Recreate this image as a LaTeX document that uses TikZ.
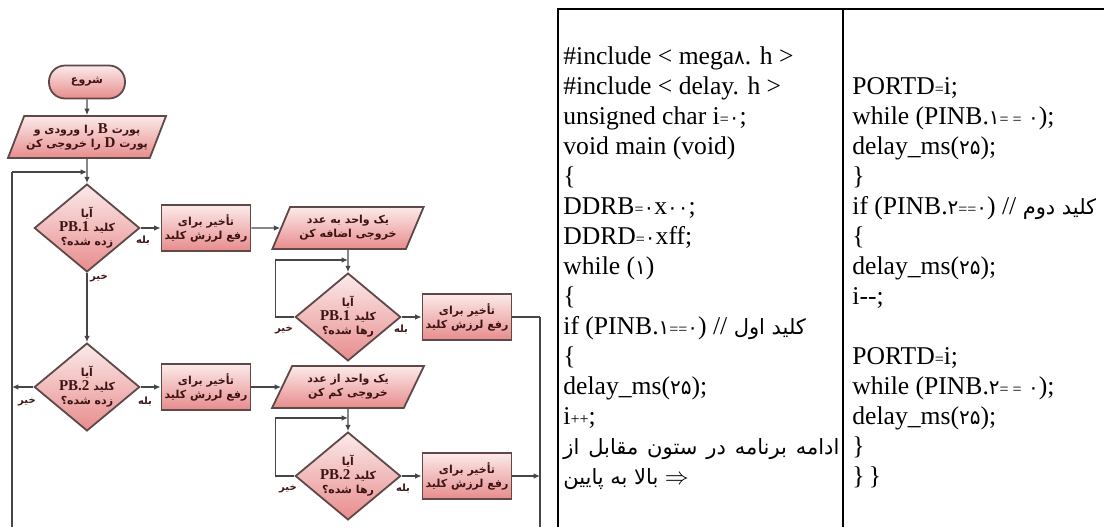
\documentclass[tikz,border=0pt]{standalone}
\usepackage{fontspec}
\setmainfont{Liberation Serif}
\newfontfamily\arabicfont[Script=Arabic]{DejaVu Sans}
\newfontfamily\digitfont{DejaVu Sans}
\TeXXeTstate=1
\usepackage{xcolor}
\usetikzlibrary{arrows.meta,shapes.geometric}

\definecolor{pinktop}{RGB}{252,234,234}
\definecolor{pinkbot}{RGB}{231,140,140}
\definecolor{boxline}{RGB}{95,72,72}
\definecolor{flowtext}{RGB}{60,20,20}
\definecolor{wirecol}{RGB}{70,70,70}

\newcommand{\pers}[1]{{\arabicfont\beginR #1\endR}}
\newcommand{\cfa}[1]{{\fontsize{10.5}{13}\selectfont\pers{#1}}}
\newcommand{\lat}[1]{\beginL{\rmfamily\fontsize{7.5}{8}\selectfont #1}\endL}
\newcommand{\dg}[1]{{\digitfont\fontsize{10}{12}\selectfont #1}}
\newcommand{\sm}[1]{{\fontsize{8}{10}\selectfont #1}}

\begin{document}
\begin{tikzpicture}[
    x=0.5pt, y=-0.5pt,
    shp/.style={draw=boxline, line width=0.9pt, top color=pinktop, bottom color=pinkbot,
      text=flowtext, font=\arabicfont\bfseries\fontsize{5.5}{7}\selectfont, align=center, inner sep=1pt},
    term/.style={shp, rectangle, rounded corners=8pt, minimum width=38pt, minimum height=16.5pt},
    io/.style={shp, trapezium, trapezium left angle=62, trapezium right angle=118,
      trapezium stretches=true, minimum width=76pt, minimum height=21pt},
    proc/.style={shp, rectangle, minimum width=44.5pt, minimum height=23pt},
    dec/.style={shp, diamond, aspect=1.2, inner sep=0pt, minimum width=50pt, minimum height=41pt},
    arr/.style={-{Latex[length=3.2pt,width=2.8pt]}, wirecol, line width=0.7pt},
    link/.style={wirecol, line width=0.7pt},
    rail/.style={wirecol, line width=1.3pt},
    lbl/.style={text=flowtext, font=\arabicfont\bfseries\fontsize{5}{6}\selectfont, inner sep=0pt},
    codeln/.style={anchor=base west, inner sep=0pt, font=\fontsize{12.8}{15}\selectfont},
    tbl/.style={black, line width=1pt}
]
  \useasboundingbox (0,0) rectangle (1104,527);

  % flowchart
  \node[term] (start) at (87,82) {\pers{شروع}};
  \node[io]   (io1)   at (87,137) {\pers{پورت \lat{B} را ورودی و}\\ \pers{پورت \lat{D} را خروجی کن}};

  \node[dec]  (d1)  at (87,228)  {\pers{آیا}\\ \pers{کلید \lat{PB.1}}\\ \pers{زده شده؟}};
  \node[proc] (dl1) at (206,228) {\pers{تأخیر برای}\\ \pers{رفع لرزش کلید}};
  \node[io]   (io2) at (348,228) {\pers{یک واحد به عدد}\\ \pers{خروجی اضافه کن}};
  \node[dec]  (d3)  at (348,317) {\pers{آیا}\\ \pers{کلید \lat{PB.1}}\\ \pers{رها شده؟}};
  \node[proc] (dl2) at (467,317) {\pers{تأخیر برای}\\ \pers{رفع لرزش کلید}};

  \node[dec]  (d2)  at (87,387)  {\pers{آیا}\\ \pers{کلید \lat{PB.2}}\\ \pers{زده شده؟}};
  \node[proc] (dl3) at (206,387) {\pers{تأخیر برای}\\ \pers{رفع لرزش کلید}};
  \node[io]   (io3) at (348,387) {\pers{یک واحد از عدد}\\ \pers{خروجی کم کن}};
  \node[dec]  (d4)  at (348,476) {\pers{آیا}\\ \pers{کلید \lat{PB.2}}\\ \pers{رها شده؟}};
  \node[proc] (dl4) at (467,476) {\pers{تأخیر برای}\\ \pers{رفع لرزش کلید}};

  \coordinate (lb) at (12,527);
  \coordinate (rb) at (540,527);
  \coordinate (j1) at (87,172);
  \coordinate (j3) at (348,260);
  \coordinate (j4) at (348,418);

  \draw[arr] (start) -- (io1);
  \draw[arr] (io1) -- (d1);
  \draw[rail] (lb) -- (lb |- j1);
  \draw[arr] (lb |- j1) -- (j1);
  \draw[arr] (d1) -- (dl1);
  \draw[arr] (dl1) -- (io2);
  \draw[arr] (io2) -- (d3);
  \draw[arr] (d3.west) -- ++(-19,0) |- (j3);
  \draw[arr] (d3) -- (dl2);
  \draw[link] (dl2.east) -- (dl2.east -| rb);
  \draw[rail] (dl2.east -| rb) -- (rb);
  \draw[arr] (d1) -- (d2);
  \draw[arr] (d2.west) -- (d2.west -| lb);
  \draw[arr] (d2) -- (dl3);
  \draw[arr] (dl3) -- (io3);
  \draw[arr] (io3) -- (d4);
  \draw[arr] (d4.west) -- ++(-19,0) |- (j4);
  \draw[arr] (d4) -- (dl4);
  \draw[arr] (dl4.east) -- (dl4.east -| rb);

  \node[lbl] (y1) at (143,241) {\pers{بله}};
  \node[lbl] (n1) at (99,278)  {\pers{خیر}};
  \node[lbl] (y2) at (145,402) {\pers{بله}};
  \node[lbl] (n2) at (27,402)  {\pers{خیر}};
  \node[lbl] (y3) at (401,330) {\pers{بله}};
  \node[lbl] (n3) at (284,330) {\pers{خیر}};
  \node[lbl] (y4) at (403,489) {\pers{بله}};
  \node[lbl] (n4) at (288,489) {\pers{خیر}};

  % code table
  \draw[tbl] (558,527) -- (558,9) -- (1104,9);
  \draw[tbl] (843,9) -- (843,527);

  \foreach \ln [count=\k from 0] in {
      {\#include < mega\dg{۸}. h >},
      {\#include < delay. h >},
      {unsigned char i\sm{=}\dg{۰};},
      {void main (void)},
      {\{},
      {DDRB\sm{=}\dg{۰}x\dg{۰۰};},
      {DDRD\sm{=}\dg{۰}xff;},
      {while (\dg{۱})},
      {\{},
      {if (PINB.\dg{۱}\sm{==}\dg{۰}) // \cfa{کلید اول}},
      {\{},
      {delay\_ms(\dg{۲۵});},
      {i\sm{++};},
      {\makebox[138pt][s]{\cfa{ادامه برنامه در ستون مقابل از}}},
      {\cfa{بالا به پایین} $\Rightarrow$}}{
    \node[codeln] (cl\k) at (563,{64+30*\k}) {\ln};
  }

  \foreach \ln [count=\k from 0] in {
      {PORTD\sm{=}i;},
      {while (PINB.\dg{۱}\sm{= =} \dg{۰});},
      {delay\_ms(\dg{۲۵});},
      {\}},
      {if (PINB.\dg{۲}\sm{==}\dg{۰}) // \cfa{کلید دوم}},
      {\{},
      {delay\_ms(\dg{۲۵});},
      {i{-}{-};},
      {PORTD\sm{=}i;},
      {while (PINB.\dg{۲}\sm{= =} \dg{۰});},
      {delay\_ms(\dg{۲۵});},
      {\}},
      {\}\,\}}}{
    \node[codeln] (cr\k) at (852,{64+30*(\k+1+(\k>7))}) {\ln};
  }
\end{tikzpicture}
\end{document}
